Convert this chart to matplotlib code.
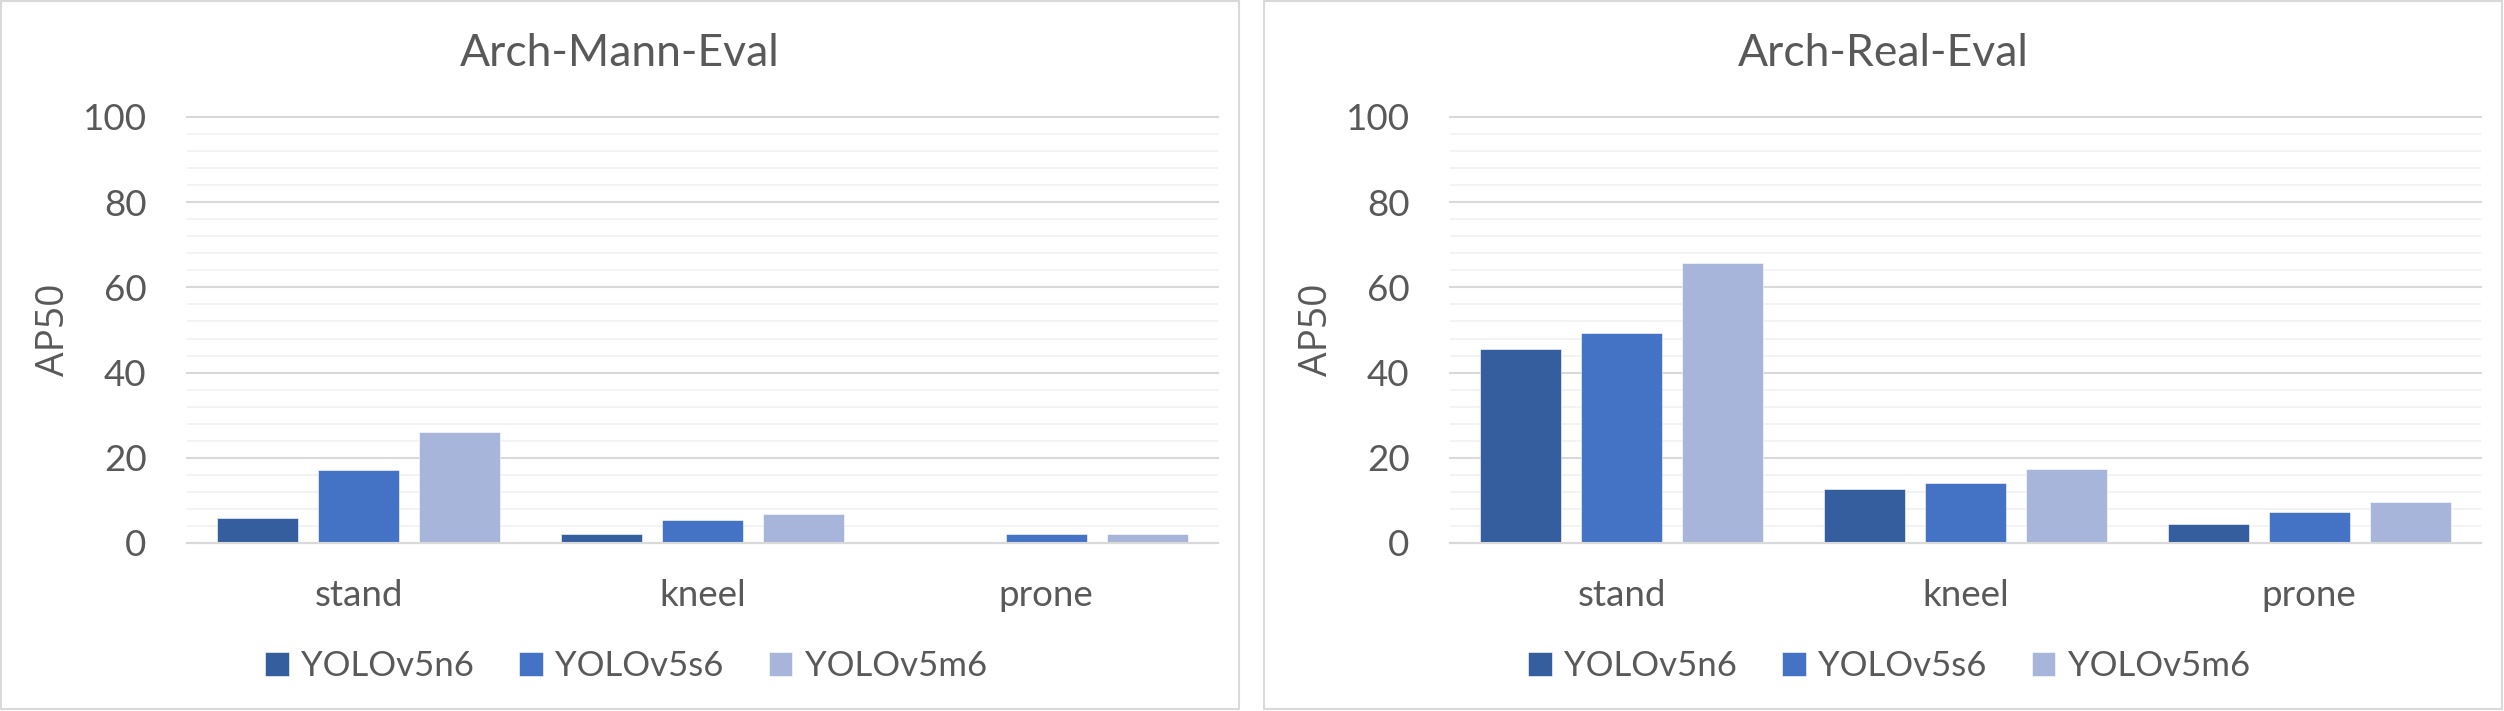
import numpy as np
import matplotlib
matplotlib.use("Agg")
import matplotlib.pyplot as plt
from matplotlib.patches import Rectangle

# ---------------------------------------------------------------------------
# data (AP50)
# ---------------------------------------------------------------------------
categories = ["stand", "kneel", "prone"]
models = ["YOLOv5n6", "YOLOv5s6", "YOLOv5m6"]
colors = ["#355E9F", "#4472C4", "#A7B5DA"]

mann_n6 = [5.9, 2.2, 0.0]
mann_s6 = [17.2, 5.5, 2.2]
mann_m6 = [26.1, 6.9, 2.0]

real_n6 = [45.6, 12.7, 4.5]
real_s6 = [49.3, 14.2, 7.3]
real_m6 = [65.8, 17.4, 9.7]

titles = ["Arch-Mann-Eval", "Arch-Real-Eval"]
yticks = [0, 20, 40, 60, 80, 100]

TXT = "#595959"
GRID = "#D9D9D9"
MINOR = "#F2F2F2"
FONT = "Lato"

W, H = 2504, 711
fig = plt.figure(figsize=(W / 100, H / 100), dpi=100)


def px(x, y):
    """pixel (from top-left) -> figure fraction"""
    return x / W, 1 - y / H


def draw_panel(x0, series, title):
    # panel frame
    fig.patches.append(Rectangle(px(x0 + 1, 709), 1238 / W, 708 / H,
                                 transform=fig.transFigure, fill=False,
                                 edgecolor=GRID, linewidth=1.5))
    left, bottom = px(x0 + 187, 543)
    ax = fig.add_axes([left, bottom, 1031 / W, 426 / H])

    xs = np.arange(len(categories))
    width, step = 0.236, 0.294
    for j, (vals, name, c) in enumerate(zip(series, models, colors)):
        ax.bar(xs + (j - 1) * step, vals, width, color=c, label=name,
               edgecolor="white", linewidth=0.4)

    ax.set_xlim(-0.5, 2.5)
    ax.set_ylim(0, 100)
    ax.set_yticks(yticks)
    ax.set_yticks(np.arange(0, 101, 4), minor=True)
    ax.set_axisbelow(True)
    ax.grid(axis="y", which="major", color=GRID, linewidth=1.5)
    ax.grid(axis="y", which="minor", color=MINOR, linewidth=1.3)
    for l in ax.yaxis.get_gridlines() + ax.yaxis.get_minorticklines():
        l.set_clip_on(False)
    for s in ["top", "left", "right"]:
        ax.spines[s].set_visible(False)
    ax.spines["bottom"].set_color(GRID)
    ax.spines["bottom"].set_linewidth(1.5)

    ax.set_xticks(xs)
    ax.set_xticklabels(categories)
    ax.tick_params(axis="both", which="both", length=0, colors=TXT,
                   labelsize=26.5)
    ax.tick_params(axis="y", pad=29)
    ax.tick_params(axis="x", pad=26)
    for lab in ax.get_xticklabels() + ax.get_yticklabels():
        lab.set_fontfamily(FONT)

    cx = x0 + 620
    fig.text(*px(cx, 54), title, ha="center", va="center", fontsize=32,
             color=TXT, family=FONT)
    fig.text(*px(x0 + 54, 330), "AP50", rotation=90, ha="center",
             va="center", fontsize=28, color=TXT, family="Open Sans")

    ax.legend(loc="center", bbox_to_anchor=px(cx + 6, 666),
              bbox_transform=fig.transFigure, ncol=3, frameon=False,
              prop={"family": FONT, "size": 25}, labelcolor=TXT,
              handlelength=0.68, handleheight=0.68, handletextpad=0.36,
              columnspacing=1.3, borderaxespad=0)
    return ax


draw_panel(0, [mann_n6, mann_s6, mann_m6], titles[0])
draw_panel(1263, [real_n6, real_s6, real_m6], titles[1])

fig.savefig("out.png", dpi=100, facecolor="white")
